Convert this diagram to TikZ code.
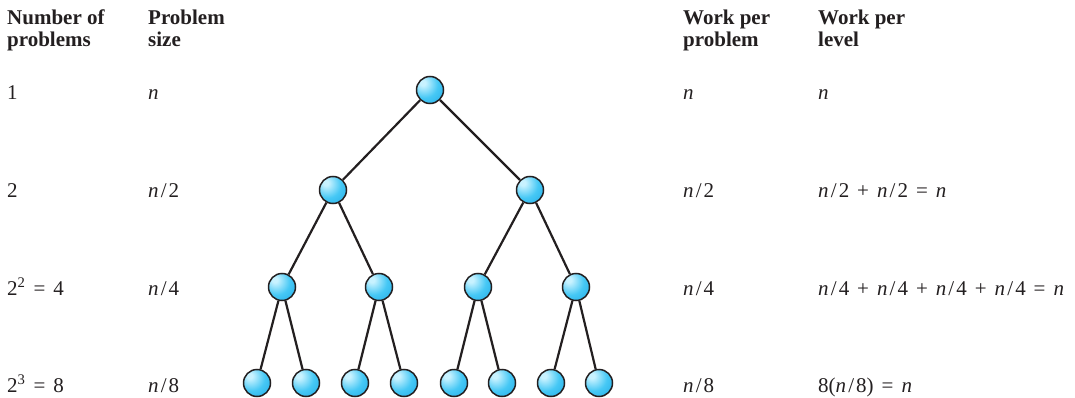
\documentclass[tikz,border=0pt]{standalone}
\usepackage{fontspec}
\setmainfont{Liberation Serif}
\definecolor{txt}{RGB}{35,31,32}
\definecolor{ballhi}{RGB}{200,242,255}
\definecolor{ballmid}{RGB}{70,200,245}
\definecolor{balldark}{RGB}{20,160,225}
\pgfdeclareradialshading{myball}{\pgfpoint{-14bp}{14bp}}{color(0bp)=(ballhi); color(5bp)=(ballhi); color(25bp)=(ballmid); color(55bp)=(balldark); color(100bp)=(balldark)}
\newcommand{\vn}{\textit{n}}
\newcommand{\myslash}{\kern.1em/\kern.1em}
\newcommand{\opp}[1]{\hspace{0.38em}#1\hspace{0.38em}}
\begin{document}
\begin{tikzpicture}[x=1pt,y=-1pt,
  every node/.style={text=txt,font=\fontsize{21}{22}\selectfont},
  lbl/.style={anchor=base west,inner sep=0pt},
  hdr/.style={anchor=north west,inner sep=0pt,align=left,font=\fontsize{21}{22}\selectfont\bfseries},
  ball/.style={circle,draw=txt,line width=1.5pt,minimum size=27pt,inner sep=0pt,shading=myball},
  edge/.style={draw=txt,line width=2.2pt}]
\useasboundingbox (0,0) rectangle (1075,398);
% headers
\node[hdr] (h1) at (7,10) {Number of\\problems};
\node[hdr] (h2) at (148,10) {Problem\\size};
\node[hdr] (h4) at (683,10) {Work per\\problem};
\node[hdr] (h5) at (818,10) {Work per\\level};
% row labels
\node[lbl] (a1) at (7,100) {1};
\node[lbl] (a2) at (7,197) {2};
\node[lbl] (a3) at (7,295) {2\textsuperscript{2}\opp{=}4};
\node[lbl] (a4) at (7,392) {2\textsuperscript{3}\opp{=}8};
\node[lbl] (b1) at (148,100) {\vn};
\node[lbl] (b2) at (148,197) {\vn\myslash2};
\node[lbl] (b3) at (148,295) {\vn\myslash4};
\node[lbl] (b4) at (148,392) {\vn\myslash8};
\node[lbl] (d1l) at (683,100) {\vn};
\node[lbl] (d2l) at (683,197) {\vn\myslash2};
\node[lbl] (d3l) at (683,295) {\vn\myslash4};
\node[lbl] (d4l) at (683,392) {\vn\myslash8};
\node[lbl] (e1) at (818,100) {\vn};
\node[lbl] (e2) at (818,197) {\vn\myslash2\opp{+}\vn\myslash2\opp{=}\vn};
\node[lbl] (e3) at (818,295) {\vn\myslash4\opp{+}\vn\myslash4\opp{+}\vn\myslash4\opp{+}\vn\myslash4\opp{=}\vn};
\node[lbl] (e4) at (818,392) {8(\vn\myslash8)\opp{=}\vn};
% tree
\node[ball] (r) at (430,90) {};
\node[ball] (p1) at (333,190) {};
\node[ball] (p2) at (530,190) {};
\node[ball] (q1) at (282,287) {};
\node[ball] (q2) at (379,287) {};
\node[ball] (q3) at (478,287) {};
\node[ball] (q4) at (576,287) {};
\node[ball] (s1) at (257,383) {};
\node[ball] (s2) at (306,383) {};
\node[ball] (s3) at (355,383) {};
\node[ball] (s4) at (404,383) {};
\node[ball] (s5) at (454,383) {};
\node[ball] (s6) at (502,383) {};
\node[ball] (s7) at (551,383) {};
\node[ball] (s8) at (599,383) {};
\draw[edge] (r) -- (p1);
\draw[edge] (r) -- (p2);
\draw[edge] (p1) -- (q1);
\draw[edge] (p1) -- (q2);
\draw[edge] (p2) -- (q3);
\draw[edge] (p2) -- (q4);
\draw[edge] (q1) -- (s1);
\draw[edge] (q1) -- (s2);
\draw[edge] (q2) -- (s3);
\draw[edge] (q2) -- (s4);
\draw[edge] (q3) -- (s5);
\draw[edge] (q3) -- (s6);
\draw[edge] (q4) -- (s7);
\draw[edge] (q4) -- (s8);
\end{tikzpicture}
\end{document}
